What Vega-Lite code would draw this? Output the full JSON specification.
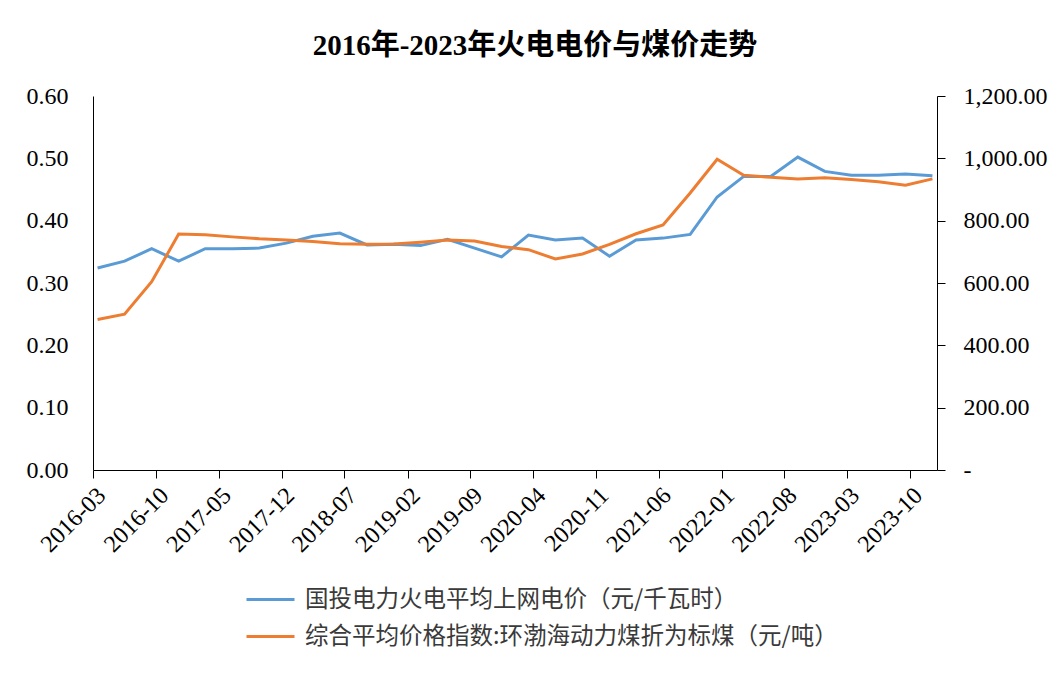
{
  "$schema": "https://vega.github.io/schema/vega-lite/v6.json",
  "autosize": "none",
  "width": 844,
  "height": 374,
  "padding": {"left": 93, "top": 96, "right": 127, "bottom": 205},
  "background": "white",
  "title": {
    "text": "2016年-2023年火电电价与煤价走势",
    "font": "Liberation Serif, Noto Sans CJK SC",
    "fontSize": 29,
    "fontWeight": "bold",
    "color": "black",
    "anchor": "middle",
    "frame": "group",
    "dx": 20,
    "offset": 23
  },
  "data": {
    "values": [
      {"date": "2016-03", "power": 0.324, "coal": 483},
      {"date": "2016-06", "power": 0.335, "coal": 500},
      {"date": "2016-09", "power": 0.355, "coal": 604},
      {"date": "2016-12", "power": 0.335, "coal": 757},
      {"date": "2017-03", "power": 0.355, "coal": 755},
      {"date": "2017-06", "power": 0.355, "coal": 748},
      {"date": "2017-09", "power": 0.356, "coal": 742},
      {"date": "2017-12", "power": 0.364, "coal": 738},
      {"date": "2018-03", "power": 0.375, "coal": 733},
      {"date": "2018-06", "power": 0.380, "coal": 726},
      {"date": "2018-09", "power": 0.361, "coal": 724},
      {"date": "2018-12", "power": 0.362, "coal": 725},
      {"date": "2019-03", "power": 0.360, "coal": 731},
      {"date": "2019-06", "power": 0.370, "coal": 738},
      {"date": "2019-09", "power": 0.356, "coal": 735},
      {"date": "2019-12", "power": 0.342, "coal": 717},
      {"date": "2020-03", "power": 0.377, "coal": 707},
      {"date": "2020-06", "power": 0.369, "coal": 677},
      {"date": "2020-09", "power": 0.372, "coal": 693},
      {"date": "2020-12", "power": 0.343, "coal": 724},
      {"date": "2021-03", "power": 0.369, "coal": 758},
      {"date": "2021-06", "power": 0.372, "coal": 786},
      {"date": "2021-09", "power": 0.378, "coal": 889},
      {"date": "2021-12", "power": 0.438, "coal": 997},
      {"date": "2022-03", "power": 0.471, "coal": 946},
      {"date": "2022-06", "power": 0.471, "coal": 939},
      {"date": "2022-09", "power": 0.502, "coal": 934},
      {"date": "2022-12", "power": 0.479, "coal": 938},
      {"date": "2023-03", "power": 0.473, "coal": 932},
      {"date": "2023-06", "power": 0.473, "coal": 925},
      {"date": "2023-09", "power": 0.475, "coal": 914},
      {"date": "2023-12", "power": 0.472, "coal": 934}
    ]
  },
  "config": {
    "view": {"stroke": null},
    "axis": {
      "domainColor": "black",
      "tickColor": "black",
      "labelColor": "black",
      "labelFont": "Liberation Serif",
      "labelFontSize": 24,
      "grid": false,
      "title": null,
      "domainWidth": 1,
      "tickWidth": 1
    }
  },
  "encoding": {
    "x": {
      "field": "date",
      "type": "temporal",
      "timeUnit": "utcyearmonth",
      "bandPosition": 0.5,
      "scale": {
        "type": "utc",
        "domain": [
          {"year": 2016, "month": 3, "date": 1, "utc": true},
          {"year": 2024, "month": 1, "date": 1, "utc": true}
        ]
      },
      "axis": {
        "values": [
          {"year": 2016, "month": 3, "date": 1, "utc": true},
          {"year": 2016, "month": 10, "date": 1, "utc": true},
          {"year": 2017, "month": 5, "date": 1, "utc": true},
          {"year": 2017, "month": 12, "date": 1, "utc": true},
          {"year": 2018, "month": 7, "date": 1, "utc": true},
          {"year": 2019, "month": 2, "date": 1, "utc": true},
          {"year": 2019, "month": 9, "date": 1, "utc": true},
          {"year": 2020, "month": 4, "date": 1, "utc": true},
          {"year": 2020, "month": 11, "date": 1, "utc": true},
          {"year": 2021, "month": 6, "date": 1, "utc": true},
          {"year": 2022, "month": 1, "date": 1, "utc": true},
          {"year": 2022, "month": 8, "date": 1, "utc": true},
          {"year": 2023, "month": 3, "date": 1, "utc": true},
          {"year": 2023, "month": 10, "date": 1, "utc": true}
        ],
        "labelExpr": "utcFormat(datum.value, '%Y-%m')",
        "labelAngle": -45,
        "tickSize": 8,
        "labelPadding": 5,
        "labelOverlap": false
      }
    }
  },
  "layer": [
    {
      "mark": {"type": "line", "strokeWidth": 3},
      "encoding": {
        "y": {
          "field": "power",
          "type": "quantitative",
          "scale": {"domain": [0, 0.6], "nice": false, "zero": true},
          "axis": {
            "orient": "left",
            "values": [0, 0.1, 0.2, 0.3, 0.4, 0.5, 0.6],
            "format": ".2f",
            "ticks": false,
            "tickSize": 0,
            "labelPadding": 25
          }
        },
        "color": {
          "datum": "国投电力火电平均上网电价（元/千瓦时）",
          "type": "nominal",
          "scale": {
            "domain": ["国投电力火电平均上网电价（元/千瓦时）", "综合平均价格指数:环渤海动力煤折为标煤（元/吨）"],
            "range": ["#5B9BD5", "#ED7D31"]
          },
          "legend": {
            "title": null,
            "orient": "none",
            "legendX": 152,
            "legendY": 478,
            "padding": 0,
            "symbolType": "stroke",
            "symbolSize": 2304,
            "symbolStrokeWidth": 3,
            "labelFont": "Noto Sans CJK SC",
            "labelFontSize": 23.5,
            "labelColor": "#3a3a3a",
            "labelOffset": 9,
            "labelLimit": 0,
            "rowPadding": -3
          }
        }
      }
    },
    {
      "mark": {"type": "line", "strokeWidth": 3},
      "encoding": {
        "y": {
          "field": "coal",
          "type": "quantitative",
          "scale": {"domain": [0, 1200], "nice": false, "zero": true},
          "axis": {
            "orient": "right",
            "values": [0, 200, 400, 600, 800, 1000, 1200],
            "labelExpr": "datum.value === 0 ? '-' : format(datum.value, ',.2f')",
            "tickSize": 8,
            "labelPadding": 18
          }
        },
        "color": {"datum": "综合平均价格指数:环渤海动力煤折为标煤（元/吨）", "type": "nominal"}
      }
    }
  ],
  "resolve": {"scale": {"y": "independent"}}
}
